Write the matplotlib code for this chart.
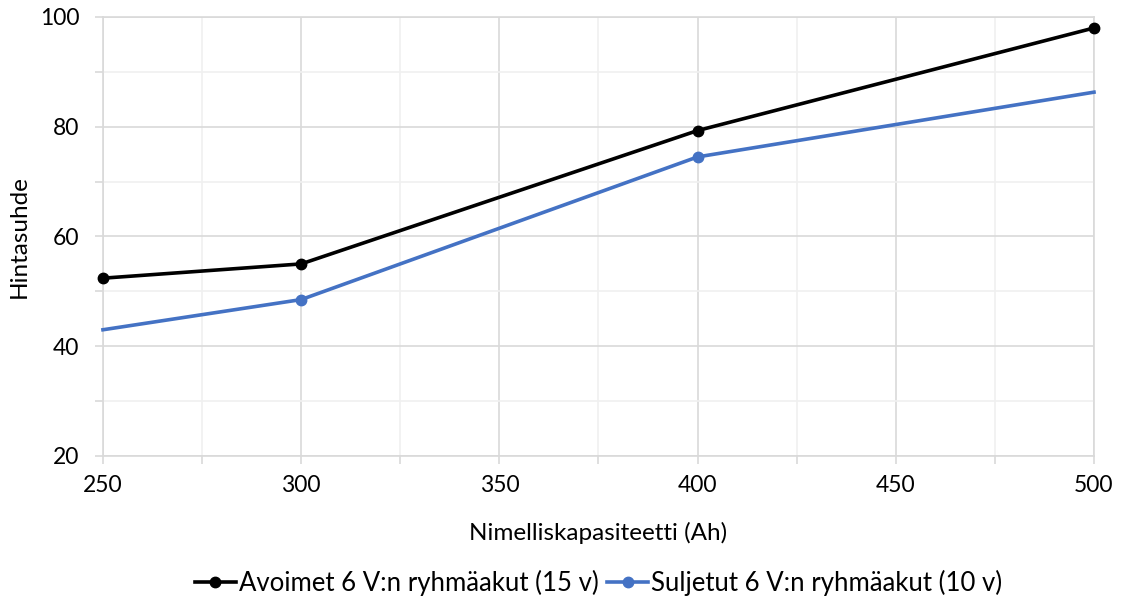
import matplotlib.pyplot as plt
from matplotlib.ticker import MultipleLocator

# Data
capacity = [250, 300, 400, 500]
open_batt = [52.4, 55.0, 79.3, 98.0]
sealed_batt = [43.0, 48.5, 74.5, 86.3]

plt.rcParams['font.family'] = ['Lato', 'DejaVu Sans']

fig = plt.figure(figsize=(11.24, 5.98), dpi=100)
ax = fig.add_axes([0.0916, 0.2375, 0.8817, 0.7341])

ax.plot(capacity, open_batt, color='black', linewidth=2.6, marker='o', markersize=7.5,
        label='Avoimet 6 V:n ryhmäakut (15 v)', zorder=4, clip_on=False)
ax.plot(capacity, sealed_batt, color='#4472C4', linewidth=2.6, marker='o', markersize=7.5,
        markevery=[1, 2], label='Suljetut 6 V:n ryhmäakut (10 v)', zorder=3, clip_on=False)

ax.set_xlim(250, 500)
ax.set_ylim(20, 100)
ax.xaxis.set_major_locator(MultipleLocator(50))
ax.xaxis.set_minor_locator(MultipleLocator(25))
ax.yaxis.set_major_locator(MultipleLocator(20))
ax.yaxis.set_minor_locator(MultipleLocator(10))

ax.grid(True, which='major', color='#D9D9D9', linewidth=1.2)
ax.grid(True, which='minor', color='#F0F0F0', linewidth=1.2)
ax.set_axisbelow(True)

for side in ['top', 'right', 'bottom', 'left']:
    ax.spines[side].set_color('#D9D9D9')
    ax.spines[side].set_linewidth(1.2)

ax.tick_params(axis='both', which='both', direction='out', color='#D9D9D9',
               labelsize=16.5, width=1.2)
ax.tick_params(axis='both', which='major', length=6)
ax.tick_params(axis='both', which='minor', length=6)
ax.tick_params(axis='y', which='major', pad=11)
ax.tick_params(axis='x', which='major', pad=8)

ax.set_xlabel('Nimelliskapasiteetti (Ah)', fontsize=17.5, labelpad=18)
ax.set_ylabel('Hintasuhde', fontsize=17.5)
ax.yaxis.set_label_coords(-0.074, 0.5)

ax.legend(loc='center', bbox_to_anchor=(0.5, -0.29), ncol=2, frameon=False,
          fontsize=18.5, handlelength=1.6, columnspacing=0.35, handletextpad=0.1)

plt.savefig('out.png', dpi=100)
